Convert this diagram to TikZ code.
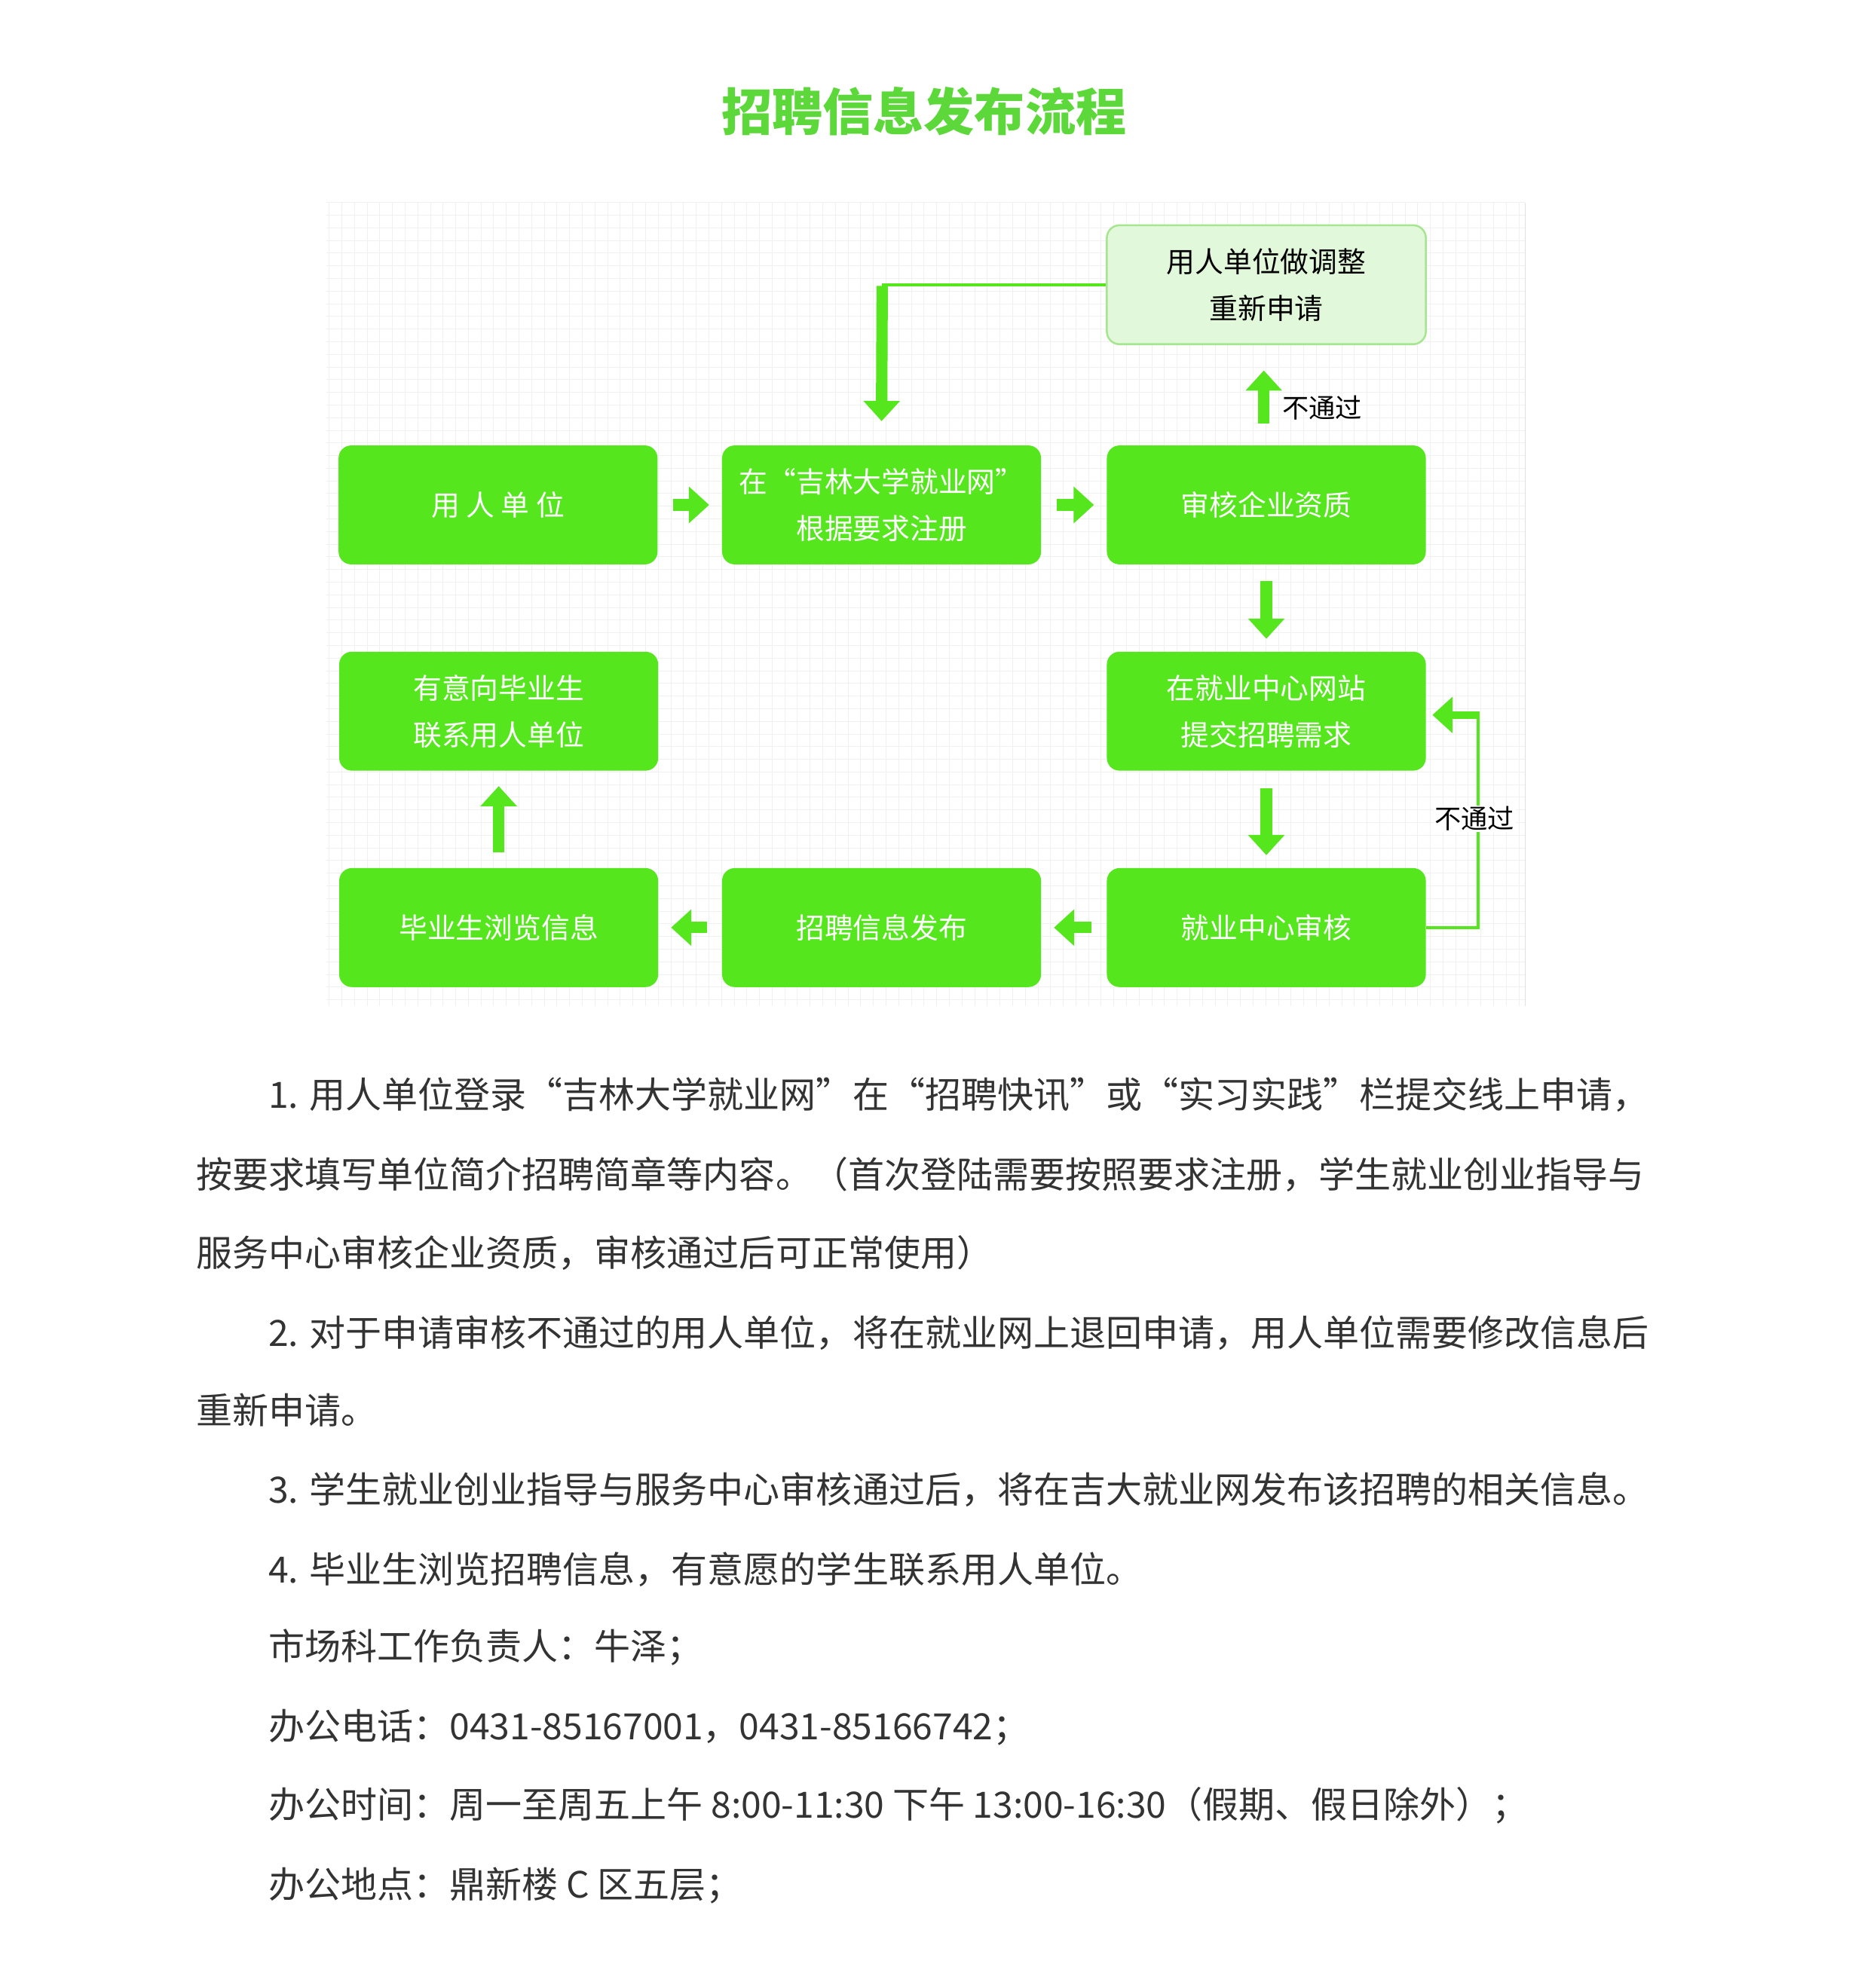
\documentclass[tikz,border=0pt]{standalone}
\usepackage{fontspec}
\setmainfont{Noto Sans CJK SC}
\usetikzlibrary{arrows.meta}
\definecolor{gbox}{HTML}{55E61E}
\definecolor{gtitle}{HTML}{5CD83A}
\definecolor{gline}{HTML}{55E61E}
\definecolor{lgfill}{HTML}{E2F8DA}
\definecolor{lgdraw}{HTML}{A6E690}
\definecolor{txt}{HTML}{333333}
\tikzset{
 box/.style={fill=gbox,rounded corners=10pt,minimum width=252pt,minimum height=94pt,text=white,font=\fontsize{22.5}{37}\selectfont,align=center,inner sep=0pt},
 barrow/.style={draw=gline,line width=9pt,-{Triangle[length=16pt,width=28pt]}},
 thin/.style={draw=gline,line width=2.5pt},
 body/.style={anchor=west,text=txt,font=\fontsize{28.6}{30}\selectfont,inner sep=0pt},
 lbl/.style={font=\fontsize{21}{24}\selectfont,text=black,inner sep=1pt}
}
\begin{document}
\begin{tikzpicture}[x=1pt,y=-1pt]
\useasboundingbox[fill=white] (0,0) rectangle (1463,1571);
\node[text=gtitle,font=\fontsize{40}{42}\selectfont\bfseries] (title) at (730,88) {招聘信息发布流程};
% grid
\draw[black!6,line width=0.5pt,step=10pt] (258,160) grid (1205,795);
\draw[black!12,line width=1pt] (1205,160) -- (1205,795);
% boxes
\node[box] (A) at (393.5,399) {用 人 单 位};
\node[box] (B) at (696.5,399) {在“吉林大学就业网”\\根据要求注册};
\node[box] (C) at (1000.5,399) {审核企业资质};
\node[box,fill=lgfill,draw=lgdraw,line width=1.5pt,text=black] (D) at (1000.5,225) {用人单位做调整\\重新申请};
\node[box] (E) at (394,562) {有意向毕业生\\联系用人单位};
\node[box] (F) at (1000.5,562) {在就业中心网站\\提交招聘需求};
\node[box] (G) at (394,733) {毕业生浏览信息};
\node[box] (H) at (696.5,733) {招聘信息发布};
\node[box] (I) at (1000.5,733) {就业中心审核};
% block arrows
\draw[barrow] ([xshift=12pt]A.east) -- ([xshift=-10pt]B.west);
\draw[barrow] ([xshift=12pt]B.east) -- ([xshift=-10pt]C.west);
\draw[barrow] ([yshift=-13pt]C.south) -- ([yshift=10pt]F.north);
\draw[barrow] ([yshift=-14pt]F.south) -- ([yshift=10pt]I.north);
\draw[barrow] ([xshift=-12pt]I.west) -- ([xshift=10pt]H.east);
\draw[barrow] ([xshift=-12pt]H.west) -- ([xshift=10pt]G.east);
\draw[barrow] ([yshift=12pt]G.north) -- ([yshift=-12pt]E.south);
\draw[barrow] ([xshift=-2pt,yshift=17pt]C.north) -- ([xshift=-2pt,yshift=-20pt]D.south);
\node[lbl,anchor=west] (n1) at (1012,322) {不通过};
% D -> B
\coordinate (k1) at (697,225);
\draw[thin] (D.west) -- (k1);
\draw[barrow] ([yshift=-1pt]k1) -- ([yshift=19pt]B.north);
% I -> F
\coordinate (k2) at (1168,733);
\coordinate (k3) at (1168,565);
\draw[thin] (I.east) -- (k2) -- (k3);
\draw[draw=gline,line width=6pt,-{Triangle[length=16pt,width=28pt]}] ([xshift=1pt]k3) -- ([xshift=5pt]F.east |- k3);
\node[lbl,fill=white] (n2) at (1165,647) {不通过};
% body text
\node[body] (t1) at (212,865) {1. 用人单位登录“吉林大学就业网”在“招聘快讯”或“实习实践”栏提交线上申请，};
\node[body] (t2) at (155,928) {按要求填写单位简介招聘简章等内容。（首次登陆需要按照要求注册，学生就业创业指导与};
\node[body] (t3) at (155,990) {服务中心审核企业资质，审核通过后可正常使用）};
\node[body] (t4) at (212,1053) {2. 对于申请审核不通过的用人单位，将在就业网上退回申请，用人单位需要修改信息后};
\node[body] (t5) at (155,1114) {重新申请。};
\node[body] (t6) at (212,1177) {3. 学生就业创业指导与服务中心审核通过后，将在吉大就业网发布该招聘的相关信息。};
\node[body] (t7) at (212,1240) {4. 毕业生浏览招聘信息，有意愿的学生联系用人单位。};
\node[body] (t8) at (212,1302) {市场科工作负责人：牛泽；};
\node[body] (t9) at (212,1365) {办公电话：0431-85167001，0431-85166742；};
\node[body] (t10) at (212,1427) {办公时间：周一至周五上午 8:00-11:30 下午 13:00-16:30（假期、假日除外）；};
\node[body] (t11) at (212,1490) {办公地点：鼎新楼 C 区五层；};
\end{tikzpicture}
\end{document}
